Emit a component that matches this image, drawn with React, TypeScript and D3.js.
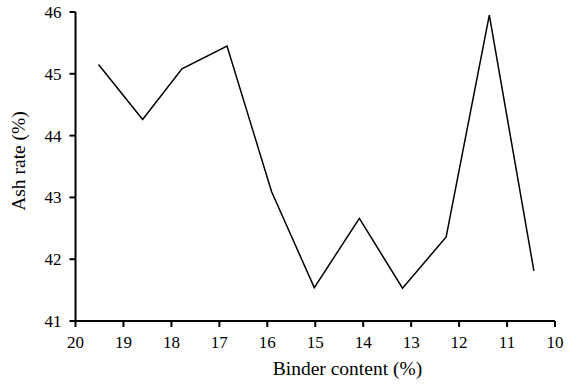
import React from "react";
import * as d3 from "d3";

const binder = [19.52, 18.6, 17.78, 16.84, 15.91, 15.02, 14.08, 13.18, 12.27, 11.37, 10.44];
const ash = [45.15, 44.26, 45.08, 45.45, 43.09, 41.54, 42.66, 41.53, 42.36, 45.95, 41.81];
const xTicks = [20, 19, 18, 17, 16, 15, 14, 13, 12, 11, 10];
const yTicks = [41, 42, 43, 44, 45, 46];

const W = 572, H = 385;
const m = { left: 75.5, right: 17, top: 12, bottom: 64 };

export default function App() {
  const x = d3.scaleLinear().domain([20, 10]).range([m.left, W - m.right]);
  const y = d3.scaleLinear().domain([41, 46]).range([H - m.bottom, m.top]);
  const pts = binder.map((b, i) => [b, ash[i]] as [number, number]);
  const line = d3.line<[number, number]>().x(d => x(d[0])).y(d => y(d[1]));
  const font = "'Liberation Serif', 'Times New Roman', serif";
  const y0 = y(41);
  return (
    <svg width={W} height={H} style={{ position: "absolute", left: 0, top: 0, background: "#fff" }} fontFamily={font}>
      <rect width={W} height={H} fill="#fff" />
      <line x1={x(20)} x2={x(10)} y1={y0} y2={y0} stroke="#000" strokeWidth={2} />
      <line x1={x(20)} x2={x(20)} y1={y(41)} y2={y(46)} stroke="#000" strokeWidth={2} />
      {xTicks.map(t => (
        <g key={"x" + t}>
          <line x1={x(t)} x2={x(t)} y1={y0} y2={y0 + 6} stroke="#000" strokeWidth={2} />
          <text x={x(t)} y={y0 + 27} textAnchor="middle" fontSize={17} fill="#000">{t}</text>
        </g>
      ))}
      {yTicks.map(t => (
        <g key={"y" + t}>
          <line x1={x(20) - 6} x2={x(20)} y1={y(t)} y2={y(t)} stroke="#000" strokeWidth={2} />
          <text x={x(20) - 14} y={y(t) + 6} textAnchor="end" fontSize={17} fill="#000">{t}</text>
        </g>
      ))}
      <path d={line(pts) || ""} fill="none" stroke="#000" strokeWidth={1.5} />
      <text x={347.5} y={375} textAnchor="middle" fontSize={19.5} fill="#000">Binder content (%)</text>
      <text transform={`translate(25,161) rotate(-90)`} textAnchor="middle" fontSize={19.5} fill="#000">Ash rate (%)</text>
    </svg>
  );
}
